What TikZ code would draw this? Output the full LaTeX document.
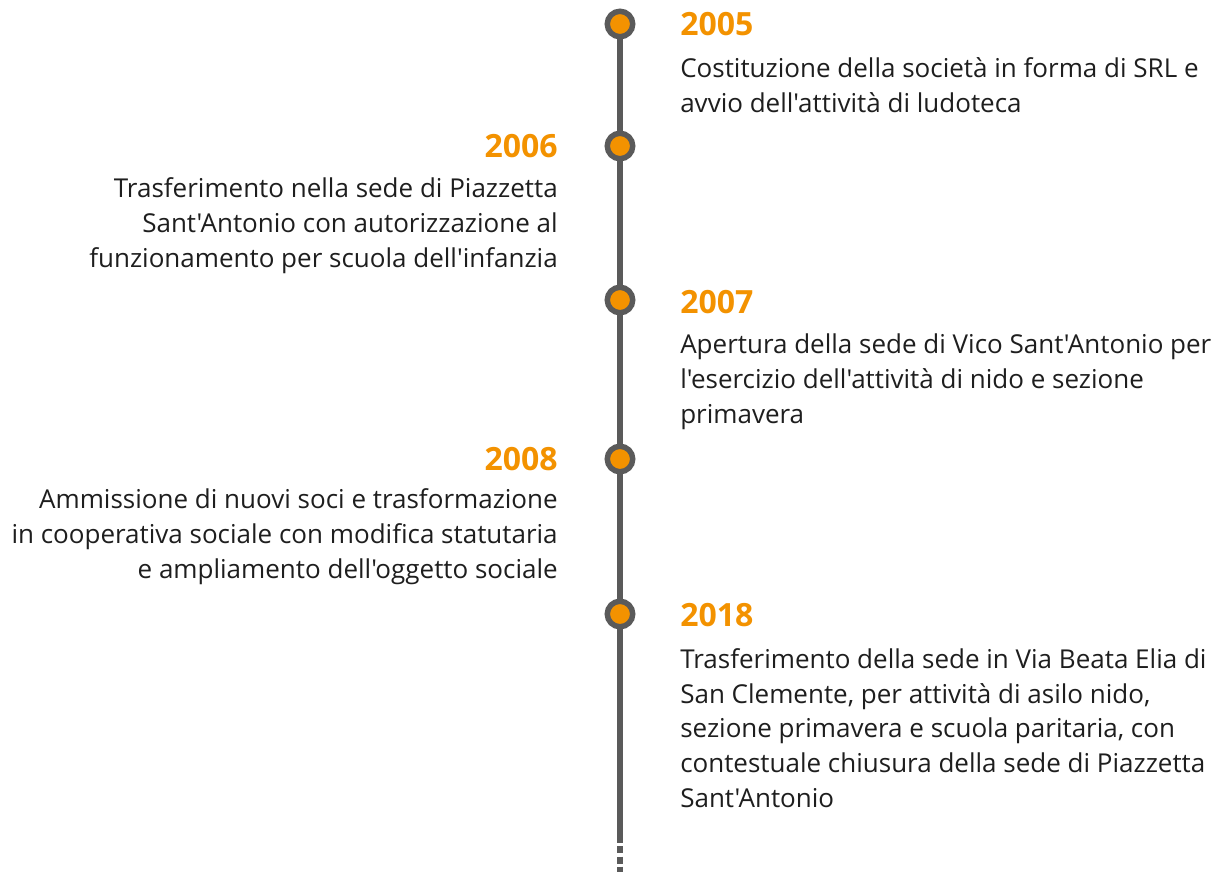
\documentclass[tikz,border=0pt]{standalone}
\usepackage{fontspec}
\setmainfont{Open Sans}[Ligatures=TeXOff]
\definecolor{tlorange}{HTML}{F39200}
\definecolor{tlgray}{HTML}{5A5A5A}
\definecolor{tltext}{HTML}{1E1E1E}
\tikzset{
  dot/.style={circle, draw=tlgray, line width=4.1pt, fill=tlorange, minimum size=19.1pt, inner sep=0pt},
  yearR/.style={anchor=base west, inner sep=0pt, text=tlorange, font=\fontsize{24}{28}\selectfont\bfseries},
  yearL/.style={anchor=base east, inner sep=0pt, text=tlorange, font=\fontsize{24}{28}\selectfont\bfseries},
  bodyR/.style={anchor=base west, inner sep=0pt, text=tltext, align=left, font=\fontsize{19.5}{25.9}\selectfont},
  bodyL/.style={anchor=base east, inner sep=0pt, text=tltext, align=right, font=\fontsize{19.5}{25.9}\selectfont},
}
\begin{document}
\begin{tikzpicture}[x=0.75pt,y=-0.75pt]
\useasboundingbox (0,0) rectangle (1231,872);
\coordinate (top) at (620,24);
\coordinate (solidend) at (620,843);
\coordinate (bot) at (620,872);
\draw[tlgray, line width=4.1pt] (top) -- (solidend);
\draw[tlgray, line width=4.1pt, dash pattern=on 5.25pt off 2.4pt] ([yshift=-2.5pt]solidend) -- (bot);
\node[dot] (d1) at (620,24) {};
\node[dot] (d2) at (620,146) {};
\node[dot] (d3) at (620,300) {};
\node[dot] (d4) at (620,459) {};
\node[dot] (d5) at (620,614) {};
\node[yearR] (y1) at (680,35) {2005};
\node[bodyR] (t1) at (680,112.5) {Costituzione della società in forma di SRL e\\avvio dell'attività di ludoteca};
\node[yearL] (y2) at (558,157) {2006};
\node[bodyL] (t2) at (558,267) {Trasferimento nella sede di Piazzetta\\Sant'Antonio con autorizzazione al\\funzionamento per scuola dell'infanzia};
\node[yearR] (y3) at (680,313) {2007};
\node[bodyR] (t3) at (680,423) {Apertura della sede di Vico Sant'Antonio per\\l'esercizio dell'attività di nido e sezione\\primavera};
\node[yearL] (y4) at (558,470) {2008};
\node[bodyL] (t4) at (558,578) {Ammissione di nuovi soci e trasformazione\\in cooperativa sociale con modifica statutaria\\e ampliamento dell'oggetto sociale};
\node[yearR] (y5) at (680,626) {2018};
\node[bodyR] (t5) at (680,807) {Trasferimento della sede in Via Beata Elia di\\San Clemente, per attività di asilo nido,\\sezione primavera e scuola paritaria, con\\contestuale chiusura della sede di Piazzetta\\Sant'Antonio};
\end{tikzpicture}
\end{document}
